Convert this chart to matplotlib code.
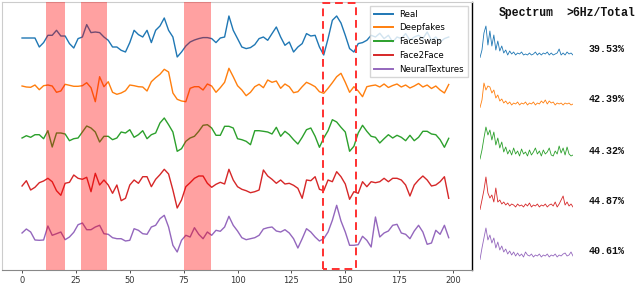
import numpy as np
import matplotlib
matplotlib.use("Agg")
import matplotlib.pyplot as plt

# frame index (every 2nd frame)
frames = np.arange(0, 200, 2)

labels = ["Real", "Deepfakes", "FaceSwap", "Face2Face", "NeuralTextures"]
colors = ["C0", "C1", "C2", "C3", "C4"]

real = [0, 0, 0, 0, -9, -4.6, 2.7, 2.7, 7.7, 2, 2, -5.6, -10, -0.6, 1, 13.4, 5.4, 6, 5.4, 1,
        -2.3, -9, -9, -12.3, -14, -4.6, 7.7, 3.4, 1, 7.7, -4.6, 7.7, 12, 20, 7.7, 1, -19, -14, -8, -4,
        -2, -0.6, 0.4, 0.4, -0.6, -4.6, 0, 1, 22, 7.7, -0.6, -9, -10.6, -9.6, -6.6, -0.6, 1, -2.3, 4.4, 11,
        1, -7.3, -4, -14, -9, -5.6, 4.4, 2, 2.7, -9, -17, -0.6, 17.7, 22, 15, 2.7, -10.6, -14, -5.6, -4.6,
        -2.3, 2.7, 1, 4.7, -0.6, 2.7, -4, 1, -0.6, 4.4, -2.3, 1, 2.7, -0.6, 6, -2.3, 1, -4, -0.6, 1]
deepfakes = [0, -1, -1.3, 1, -3.7, 0.3, 1, 0, -6.3, -5, 1.7, 0.7, -0.3, -0.3, 0.3, 3.3, -1.7, -15.7, 9.3, -0.7,
             4.3, -6.3, -8.3, -7, -4.7, 1, 0.3, -0.7, -1, -5, 4.3, 8.3, 11.7, 16.7, 14, -7, -13.3, -15, -15.7, -2.3,
             -0.7, -0.7, -4, 2, 0, -6.3, -1.7, 3.7, 17.7, 9.3, 0.3, -4, -9.7, -6.3, -0.7, 1.7, -1.7, 6, 3.7, 5,
             -2.3, 2, -0.7, -6.7, -5.7, -0.7, 3.7, 1.7, -0.7, -5.7, -7.3, -2.3, 3.3, 9.3, 12.7, 3.7, -6.3, -0.7, -5, -10.7,
             -0.7, 0.3, 1, -1, 2, -1.5, 0.5, 2, -1, 1, -2, 0, 2.5, -1, 1, -2.5, 0, -4, -7, 1.5]
faceswap = [0, 2.3, 0.7, 3.3, 3.3, -0.7, 7.3, -9, 5, 5, 4, -2.7, -0.7, 0, 6, 12, 10, 6, -4, 1.7,
            1.7, -1.7, 0, 6, 5, 8.3, 0.7, 3.3, 7.3, -0.7, 3.3, 5, 15, 20, 13.3, 6, -13.3, -10.7, -3.3, 0,
            1.7, 6.7, 12.7, 13.3, 10, 2.7, 2.7, 11.7, 11.7, 10, -0.7, -1.7, -3.3, -6.7, 7.3, 7.3, 6.7, 6, 4, 10.7,
            1.7, 6.7, 3.3, -1.7, -6, 0.7, 8.3, 10, 1.7, -9.3, 0, 7.3, 18.3, 16, 10.7, 6, -13.3, -8.3, 5, 12.7,
            6.7, 1.7, 0.7, -5, -0.7, 3.3, 0, 2.7, 0.7, -2.7, 2.7, -2.7, 0.7, 6.7, 6.7, 4, 3.3, -1.7, -9.3, -0.3]
face2face = [0, 5.3, -4, -1.3, 3.3, 5, 7.7, 4.3, -4.7, -9.3, 2.7, 3.7, 11, 7.7, 6.7, 8.7, -5.7, 12.7, 1, 6,
             1, -7.3, 1, -14.7, -12.3, 1, 6, 2.7, 9.3, 9.3, -0.7, 6.7, 11.3, 16.7, 12, -4, -22, -14, -0.7, 3.3,
             7.7, 10, 10, 2.7, -1.3, 1.7, 3.7, 2, 16.7, 6, -0.7, -3.3, -4.7, -6.7, -5.7, -4, 16, 10, 6.7, 2.7,
             6, 2, 2.7, 0.7, -2.3, -12.3, 6, 5.3, 9.3, -3.3, -4.7, 6, 4.3, 14.3, 9.3, 2, -13.3, -5.7, -7.3, 4.3,
             -0.7, 4.3, 3.3, 4.3, 7.7, 4.3, 7.7, 7.7, 6, 1, -10, 1, 6, 10, 6, 0, 1, 4.3, 9.3, -12.3]
neuraltextures = [0, 4, 1, -7, -7.3, -7, 7, -2.3, -0.7, 1, -6.7, -4, 0.7, 8.3, 10, 3.3, 3.3, 6, 7.7, -0.7,
                  -1.3, -4.7, -5.7, -5.7, -8, -7.3, 4.3, 2.7, -0.7, -1.3, 6, 7.7, 14.3, 17.7, 6, -12.3, -19, -7.3, -2.3, -4,
                  5.3, -1.3, -5.7, 1, -2.3, 2.7, 1.7, 6, 16.7, 7.7, 2, -4.7, -6.7, -5.7, -4.7, -2.3, 4, 5.3, 6, 2,
                  1, 3.3, 0, -5.7, -15, -5.7, 4.3, 1, -4, -8, -5.7, 1, 12.7, 27.7, 12, 1, -12.3, -12.3, -11.7, -3.3,
                  -7.3, -14, 16, -4, 0, 2, 7.7, 8.7, 0, -1.3, -5.7, 2, 7.7, 1, -11.3, -10, 2.7, -1.3, 7.7, -4.7]
series = [real, deepfakes, faceswap, face2face, neuraltextures]

# highlighted frame ranges
spans = [(11, 20), (27.5, 39.5), (75, 87.5)]
box = (139.5, 155)

# spectra (amplitude, low -> high frequency)
spec_real = [0.5, 8, 25, 32, 13, 27, 12, 23, 8, 17, 7, 12, 5, 8, 3, 7, 4, 6, 3, 5, 4, 6, 3, 4,
             3, 5, 3, 4, 6, 3, 5, 3, 5, 4, 6, 3, 5, 3, 4, 5, 9, 3, 5, 3, 6, 4, 5, 3]
spec_deep = [0.5, 8, 25, 18, 22, 21, 15, 18, 10, 13, 7, 9, 5, 7, 4, 6, 3, 5, 4, 6, 3, 5, 4, 6,
             3, 5, 4, 6, 3, 5, 4, 7, 5, 8, 4, 7, 5, 6, 3, 5, 4, 5, 3, 5, 4, 5, 3, 4]
spec_swap = [1, 10, 22, 33, 25, 30, 20, 28, 15, 22, 12, 18, 8, 13, 6, 10, 5, 12, 6, 9, 4, 11, 6, 8,
             4, 10, 5, 8, 12, 6, 9, 4, 10, 6, 8, 12, 5, 4, 9, 6, 14, 7, 12, 5, 13, 6, 4, 5]
spec_f2f = [0.5, 10, 20, 33, 17, 12, 15, 8, 22, 8, 10, 6, 8, 5, 7, 4, 6, 5, 3, 6, 4, 5, 3, 6,
            4, 7, 3, 5, 4, 6, 3, 5, 4, 6, 3, 5, 6, 4, 8, 3, 6, 10, 14, 5, 8, 4, 6, 3]
spec_nt = [0.5, 12, 22, 32, 20, 25, 17, 22, 12, 18, 10, 14, 8, 11, 6, 9, 5, 8, 4, 7, 4, 6, 3, 8,
           5, 4, 6, 3, 5, 4, 6, 3, 5, 4, 6, 3, 5, 4, 6, 3, 5, 4, 6, 7, 4, 5, 8, 4]
spectra = [spec_real, spec_deep, spec_swap, spec_f2f, spec_nt]
ratios = ["39.53%", "42.39%", "44.32%", "44.87%", "40.61%"]

W, H = 640, 293
fig = plt.figure(figsize=(W / 100, H / 100), dpi=100)

# main panel
ax = fig.add_axes([2 / W, 1 - 270 / H, 470 / W, 268 / H])
offsets = [232, 184, 132, 84, 37]
for vals, off, c, lab in zip(series, offsets, colors, labels):
    ax.plot(frames, np.array(vals) + off, color=c, lw=1.0, label=lab)

for a, b in spans:
    ax.axvspan(a, b, color="red", alpha=0.37, lw=0, zorder=5)
ax.plot([box[0], box[0], box[1], box[1], box[0]], [1, 267, 267, 1, 1],
        color="#ff3030", lw=1.4, ls=(0, (4, 2.5)), zorder=6, clip_on=False)

ax.set_xlim(-9.3, 208.8)
ax.set_ylim(0, 268)
ax.set_yticks([])
ax.set_xticks(range(0, 201, 25))
ax.tick_params(axis="x", labelsize=6, length=2.5, width=0.6, pad=2, colors="#333333")
for s in ["left", "top"]:
    ax.spines[s].set_color("#cccccc")
ax.spines["bottom"].set_color("#888888")
ax.spines["right"].set_color("black")
ax.spines["right"].set_linewidth(1.0)
leg = ax.legend(loc="upper right", fontsize=6.2, handlelength=2.2, labelspacing=0.55,
                borderpad=0.4, framealpha=0.8, edgecolor="#cccccc", fancybox=False)
for line in leg.get_lines():
    line.set_linewidth(1.4)

# spectrum column
baselines = [58, 108, 160, 210, 260]
for spec, base, c, r in zip(spectra, baselines, colors, ratios):
    sax = fig.add_axes([480 / W, 1 - base / H, 93 / W, 35 / H])
    sax.plot(np.arange(len(spec)), spec, color=c, lw=0.6)
    sax.set_xlim(0, len(spec) - 1)
    sax.set_ylim(0, 35)
    sax.axis("off")
    fig.text(607 / W, 1 - (base - 9) / H, r, ha="center", va="center",
             fontsize=7.2, family="Liberation Mono", weight="bold", color="#111111")

fig.text(526 / W, 1 - 13 / H, "Spectrum", ha="center", va="center",
         fontsize=8.3, family="Liberation Mono", weight="bold", color="#111111")
fig.text(601 / W, 1 - 13 / H, ">6Hz/Total", ha="center", va="center",
         fontsize=8.3, family="Liberation Mono", weight="bold", color="#111111")

fig.savefig("out.png", dpi=100)
